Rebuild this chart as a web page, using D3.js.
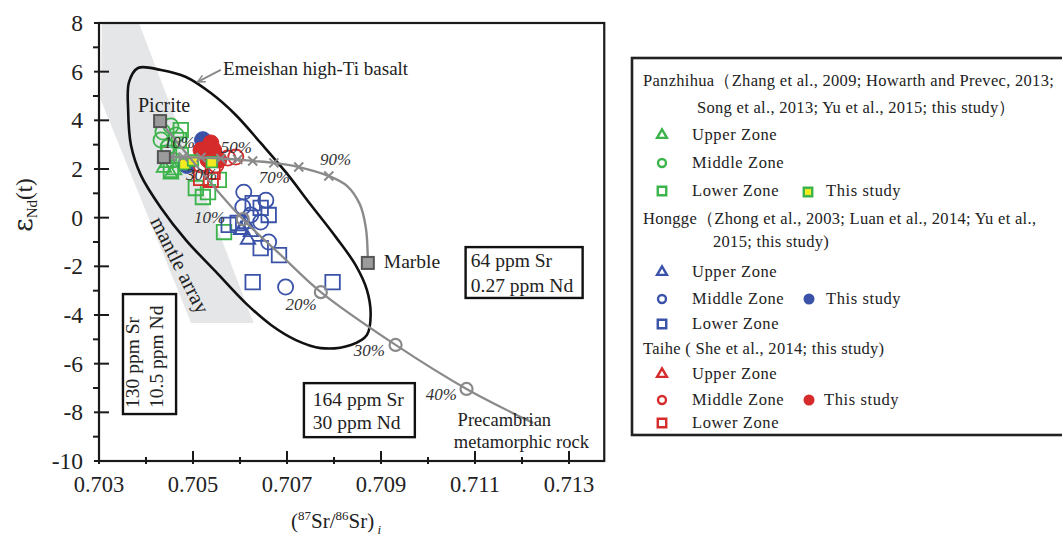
<!DOCTYPE html>
<html><head><meta charset="utf-8">
<script src="https://cdn.jsdelivr.net/npm/d3@7"></script>
<style>
body{margin:0;background:#fff;}
svg{display:block;font-family:"Liberation Serif","Times New Roman",serif;}
</style></head><body>
<svg id="c" width="1062" height="543" font-family="Liberation Serif, Times New Roman, serif"></svg>
<script>
// ---------- data ----------
const xTicks=[0.703,0.705,0.707,0.709,0.711,0.713];
const xMinorTicks=[0.704,0.706,0.708,0.710,0.712];
const yTicks=[-10,-8,-6,-4,-2,0,2,4,6,8];
const yMinorTicks=[-9,-7,-5,-3,-1,1,3,5,7];

const mantleArray=[[0.70306,8],[0.70385,8],[0.70629,-4.33],[0.70496,-4.33],[0.70304,4.84]];
const emeishanEnvelope=[[0.70383,6.15],[0.70432,6.07],[0.70485,5.78],[0.70538,5.12],[0.70591,4.22],[0.70644,3.07],
 [0.70697,1.88],[0.70751,0.52],[0.70804,-0.80],[0.70846,-1.95],[0.70870,-2.97],[0.70878,-4.0],[0.70870,-4.82],
 [0.70836,-5.23],[0.70772,-5.36],[0.70719,-5.03],[0.70666,-4.41],[0.70612,-3.51],[0.70549,-2.23],[0.70485,-0.92],
 [0.70432,0.40],[0.70389,1.75],[0.70368,2.99],[0.70362,4.42],[0.70364,5.58]];

const picriteMembers=[[0.70430,3.97],[0.70438,2.49]];
const marbleMember=[0.70872,-1.86];
const marbleCurve=[[0.70438,2.49],[0.70453,2.49],[0.70479,2.49],[0.70517,2.47],[0.70559,2.43],[0.70595,2.39],
 [0.70627,2.33],[0.70672,2.25],[0.70725,2.08],[0.70789,1.71],[0.70828,1.30],[0.70855,0.55],[0.70868,-0.45],[0.70872,-1.86]];
const marbleMixPct=[10,20,30,40,50,60,70,80,90];
const marbleMixX=[0.70453,0.70479,0.70517,0.70559,0.70595,0.70627,0.70672,0.70725,0.70789];
const marbleMixY=[2.49,2.49,2.47,2.43,2.39,2.33,2.25,2.08,1.71];
const precambrianCurve=[[0.70430,3.97],[0.70538,1.42],[0.70606,-0.06],[0.70687,-1.54],[0.70772,-3.06],
 [0.70931,-5.23],[0.71082,-7.04],[0.71224,-8.44]];
const precambrianMixPct=[10,20,30,40];
const precambrianMixX=[0.70606,0.70772,0.70931,0.71082];
const precambrianMixY=[-0.06,-3.06,-5.23,-7.04];

// Panzhihua
const panUpper=[[0.70438,2.05],[0.70453,1.78],[0.70445,2.25],[0.70460,1.95]];
const panMiddle=[[0.70436,3.52],[0.70453,3.77],[0.70432,3.19],[0.70447,2.90],[0.70464,3.40],[0.70457,2.37]];
const panLower=[[0.70449,2.66],[0.70474,3.60],[0.70470,3.19],[0.70453,1.96],[0.70506,1.22],[0.70532,1.05],
 [0.70521,0.85],[0.70555,1.55],[0.70566,-0.59],[0.70474,2.57]];
const panStudy=[[0.70482,2.20],[0.70500,2.35],[0.70540,2.28]];
// Hongge
const hongUpper=[[0.70602,-0.50],[0.70623,-0.59],[0.70612,-0.26],[0.70617,-0.90]];
const hongMiddle=[[0.70608,1.05],[0.70655,0.72],[0.70606,0.44],[0.70644,-0.18],[0.70661,-1.0],[0.70697,-2.85],[0.70623,0.11]];
const hongLower=[[0.70627,0.60],[0.70644,0.40],[0.70661,0.11],[0.70595,-0.22],[0.70644,-1.25],[0.70683,-1.54],
 [0.70627,-2.65],[0.70797,-2.65],[0.70576,-0.30]];
const hongStudy=[[0.70521,3.19],[0.70487,2.16]];
// Taihe
const taiUpper=[[0.70527,2.57]];
const taiMiddle=[[0.70574,2.45],[0.70591,2.49],[0.70517,2.16],[0.70549,2.16]];
const taiLower=[[0.70517,1.63],[0.70538,1.55],[0.70542,1.88]];
const taiStudy=[[0.70517,2.78],[0.70544,2.78],[0.70532,2.37],[0.70555,2.37],[0.70538,3.07]];

// text annotations (anchored in data coordinates)
const pctLabelsTop=[[10,0.70438,2.86],[30,0.70485,1.55],[50,0.70559,2.66],[70,0.70640,1.42],[90,0.70770,2.16]];
const pctLabelsLow=[[10,0.70502,-0.22],[20,0.70697,-3.80],[30,0.70842,-5.69],[40,0.70995,-7.50]];

// ---------- drawing ----------
const green="#3cb44b", blue="#3a52a8", red="#d52b2b", yellow="#f3ea1f", grayL="#8a8a8a";
const svg=d3.select('#c');
const x=d3.scaleLinear().domain([0.703,0.713]).range([99,569]);
const y=d3.scaleLinear().domain([-10,8]).range([461,23]);
const xEnd=0.71375;
const line=d3.line().x(d=>x(d[0])).y(d=>y(d[1]));

// mantle array band
svg.append('path').attr('d',line(mantleArray)+'Z').attr('fill','#e5e6e8');
svg.append('text').attr('transform',`translate(${x(0.70468)},${y(-1.99)}) rotate(63)`)
 .attr('text-anchor','middle').attr('dominant-baseline','middle').attr('font-size',21).attr('fill','#222')
 .text('mantle array');

// Emeishan envelope
svg.append('path').attr('d',d3.line().x(d=>x(d[0])).y(d=>y(d[1])).curve(d3.curveCatmullRomClosed.alpha(0.5))(emeishanEnvelope))
 .attr('fill','none').attr('stroke','#111').attr('stroke-width',2.6);

// data points
const sym=(t,s)=>d3.symbol().type(t).size(s)();
function pts(data,type,size,stroke,fill,sw){
  svg.append('g').selectAll('path').data(data).join('path')
   .attr('transform',d=>`translate(${x(d[0])},${y(d[1])})`)
   .attr('d',sym(type,size)).attr('fill',fill).attr('stroke',stroke).attr('stroke-width',sw);
}
pts(panLower,d3.symbolSquare,210,green,'none',1.8);
pts(panMiddle,d3.symbolCircle,180,green,'none',1.8);
pts(panUpper,d3.symbolTriangle,90,green,'none',1.8);
pts(hongLower,d3.symbolSquare,210,blue,'none',1.8);
pts(hongMiddle,d3.symbolCircle,180,blue,'none',1.8);
pts(hongUpper,d3.symbolTriangle,90,blue,'none',1.8);
pts(hongStudy,d3.symbolCircle,220,blue,blue,1);
pts(taiLower,d3.symbolSquare,200,red,'none',1.8);
pts(taiMiddle,d3.symbolCircle,180,red,'none',1.8);
pts(taiUpper,d3.symbolTriangle,90,red,'none',1.8);
pts(taiStudy,d3.symbolCircle,200,red,red,1);
pts(panStudy,d3.symbolSquare,110,green,yellow,1.8);

// mixing curves
const curveLine=d3.line().x(d=>x(d[0])).y(d=>y(d[1])).curve(d3.curveCatmullRom.alpha(0.5));
svg.append('path').attr('d',curveLine(marbleCurve)).attr('fill','none').attr('stroke',grayL).attr('stroke-width',2.4);
svg.append('path').attr('d',curveLine(precambrianCurve)).attr('fill','none').attr('stroke',grayL).attr('stroke-width',2.2);
svg.append('g').selectAll('path').data(marbleMixX).join('path')
 .attr('transform',(d,i)=>`translate(${x(d)},${y(marbleMixY[i])})`)
 .attr('d','M-4.5,-4.5L4.5,4.5M-4.5,4.5L4.5,-4.5').attr('stroke',grayL).attr('stroke-width',2).attr('fill','none');
svg.append('g').selectAll('circle').data(precambrianMixX).join('circle')
 .attr('cx',d=>x(d)).attr('cy',(d,i)=>y(precambrianMixY[i])).attr('r',6)
 .attr('fill','none').attr('stroke',grayL).attr('stroke-width',2.2);
// end-member squares
svg.append('g').selectAll('rect').data(picriteMembers.concat([marbleMember])).join('rect')
 .attr('x',d=>x(d[0])-6).attr('y',d=>y(d[1])-6).attr('width',12).attr('height',12)
 .attr('fill','#9b9b9b').attr('stroke','#555').attr('stroke-width',2);

// percent labels
svg.append('g').selectAll('text').data(pctLabelsTop.concat(pctLabelsLow)).join('text')
 .attr('x',d=>x(d[1])).attr('y',d=>y(d[2])).attr('font-size',17).attr('font-style','italic').attr('fill','#333')
 .text(d=>d[0]+'%');

// annotations
const ann=(t,xv,yv,fs)=>svg.append('text').attr('x',x(xv)).attr('y',y(yv)).attr('font-size',fs).attr('fill','#222').text(t);
ann('Emeishan high-Ti basalt',0.70564,5.86,19);
ann('Picrite',0.70383,4.34,20);
ann('Marble',0.70906,-2.07,19.5);
ann('Precambrian',0.71063,-8.58,18.5);
ann('metamorphic rock',0.71055,-9.47,18.5);
// arrow
svg.append('defs').append('marker').attr('id','ah').attr('viewBox','0 0 10 10').attr('refX',9).attr('refY',5)
 .attr('markerWidth',9).attr('markerHeight',9).attr('orient','auto').attr('markerUnits','userSpaceOnUse')
 .append('path').attr('d','M1,1L9,5L1,9').attr('fill','none').attr('stroke',grayL).attr('stroke-width',1.8);
svg.append('line').attr('x1',x(0.70559)).attr('y1',y(6.07)).attr('x2',x(0.70510)).attr('y2',y(5.58))
 .attr('stroke',grayL).attr('stroke-width',2).attr('marker-end','url(#ah)');

// concentration boxes
function box(x0,x1,y0,y1){svg.append('rect').attr('x',x(x0)).attr('y',y(y0)).attr('width',x(x1)-x(x0)).attr('height',y(y1)-y(y0))
 .attr('fill','#fff').attr('stroke','#111').attr('stroke-width',2.4);}
box(0.71080,0.71329,-1.21,-3.30);
ann('64 ppm Sr',0.71091,-2.03,19.5); ann('0.27 ppm Nd',0.71091,-3.06,19.5);
box(0.70736,0.70972,-6.80,-9.02);
ann('164 ppm Sr',0.70755,-7.74,19.5); ann('30 ppm Nd',0.70755,-8.69,19.5);
box(0.70351,0.70464,-3.14,-8.07);
[['130 ppm Sr',0.70385],['10.5 ppm Nd',0.70436]].forEach(([t,xv])=>{
 svg.append('text').attr('transform',`translate(${x(xv)},${y(-7.82)}) rotate(-90)`).attr('font-size',19.5).attr('fill','#222').text(t);
});

// frame
svg.append('rect').attr('x',x(0.703)).attr('y',y(8)).attr('width',x(xEnd)-x(0.703)).attr('height',y(-10)-y(8))
 .attr('fill','none').attr('stroke','#1a1a1a').attr('stroke-width',2.2);

// ticks
const tg=svg.append('g').attr('stroke','#1a1a1a').attr('stroke-width',2);
tg.selectAll('.xM').data(xTicks).join('line').attr('x1',d=>x(d)).attr('x2',d=>x(d)).attr('y1',y(-10)-10).attr('y2',y(-10)+3);
tg.selectAll('.xm').data(xMinorTicks).join('line').attr('x1',d=>x(d)).attr('x2',d=>x(d)).attr('y1',y(-10)-4).attr('y2',y(-10)+3);
tg.selectAll('.yM').data(yTicks).join('line').attr('y1',d=>y(d)).attr('y2',d=>y(d)).attr('x1',x(0.703)-5).attr('x2',x(0.703)+10);
tg.selectAll('.ym').data(yMinorTicks).join('line').attr('y1',d=>y(d)).attr('y2',d=>y(d)).attr('x1',x(0.703)-6).attr('x2',x(0.703));
svg.append('g').selectAll('text').data(xTicks).join('text').attr('x',d=>x(d)).attr('y',y(-10)+31)
 .attr('text-anchor','middle').attr('font-size',22.5).attr('fill','#222').text(d=>d.toFixed(3));
svg.append('g').selectAll('text').data(yTicks).join('text').attr('x',x(0.703)-16).attr('y',d=>y(d)+8)
 .attr('text-anchor','end').attr('font-size',23.5).attr('fill','#222').text(d=>String(d));

// axis titles
const yt=svg.append('text').attr('transform','translate(32,205) rotate(-90)').attr('text-anchor','middle').attr('fill','#222');
yt.append('tspan').attr('font-size',26).attr('font-family','"DejaVu Serif",serif').text('ε');
yt.append('tspan').attr('font-size',15).attr('dy',5).text('Nd');
yt.append('tspan').attr('font-size',23).attr('dy',-5).text('(t)');
const xt=svg.append('text').attr('x',336).attr('y',528).attr('text-anchor','middle').attr('font-size',21).attr('fill','#222');
xt.append('tspan').text('(');
xt.append('tspan').attr('font-size',13).attr('dy',-8).text('87');
xt.append('tspan').attr('dy',8).text('Sr/');
xt.append('tspan').attr('font-size',13).attr('dy',-8).text('86');
xt.append('tspan').attr('dy',8).text('Sr)');
xt.append('tspan').attr('font-size',13).attr('dy',6).attr('font-style','italic').text(' i');

// ---------- legend ----------
const L=svg.append('g').attr('font-size',16.5).attr('fill','#222');
L.append('rect').attr('x',632).attr('y',58).attr('width',460).attr('height',377).attr('fill','#fff')
 .attr('stroke','#222').attr('stroke-width',2.6);
const heads=[['Panzhihua（Zhang et al., 2009; Howarth and Prevec, 2013;',643,86],
 ['Song et al., 2013; Yu et al., 2015; this study）',697,113],
 ['Hongge（Zhong et al., 2003; Luan et al., 2014; Yu et al.,',643,224],
 ['2015; this study)',713,247],
 ['Taihe ( She et al., 2014; this study)',643,354]];
heads.forEach(h=>L.append('text').attr('x',h[1]).attr('y',h[2]).attr('letter-spacing','0.3px').text(h[0]));
const rows=[[green,'tri',135,'Upper Zone'],[green,'cir',163,'Middle Zone'],[green,'sq',191,'Lower Zone'],
 [blue,'tri',272,'Upper Zone'],[blue,'cir',299,'Middle Zone'],[blue,'sq',324,'Lower Zone'],
 [red,'tri',374,'Upper Zone'],[red,'cir',400,'Middle Zone'],[red,'sq',423,'Lower Zone']];
const symT={tri:[d3.symbolTriangle,42],cir:[d3.symbolCircle,50],sq:[d3.symbolSquare,72]};
rows.forEach(r=>{
 L.append('path').attr('transform',`translate(662,${r[2]})`).attr('d',sym(symT[r[1]][0],symT[r[1]][1]))
  .attr('fill','none').attr('stroke',r[0]).attr('stroke-width',2.4);
 L.append('text').attr('x',692).attr('y',r[2]+5).attr('letter-spacing','0.6px').text(r[3]);
});
L.append('path').attr('transform','translate(808,192)').attr('d',sym(d3.symbolSquare,72)).attr('fill',yellow).attr('stroke',green).attr('stroke-width',2.4);
L.append('text').attr('x',826).attr('y',196).attr('letter-spacing','0.6px').text('This study');
L.append('circle').attr('cx',809).attr('cy',299).attr('r',5.5).attr('fill',blue);
L.append('text').attr('x',826).attr('y',304).attr('letter-spacing','0.6px').text('This study');
L.append('circle').attr('cx',809).attr('cy',400).attr('r',5.5).attr('fill',red);
L.append('text').attr('x',824).attr('y',405).attr('letter-spacing','0.6px').text('This study');
</script></body></html>
